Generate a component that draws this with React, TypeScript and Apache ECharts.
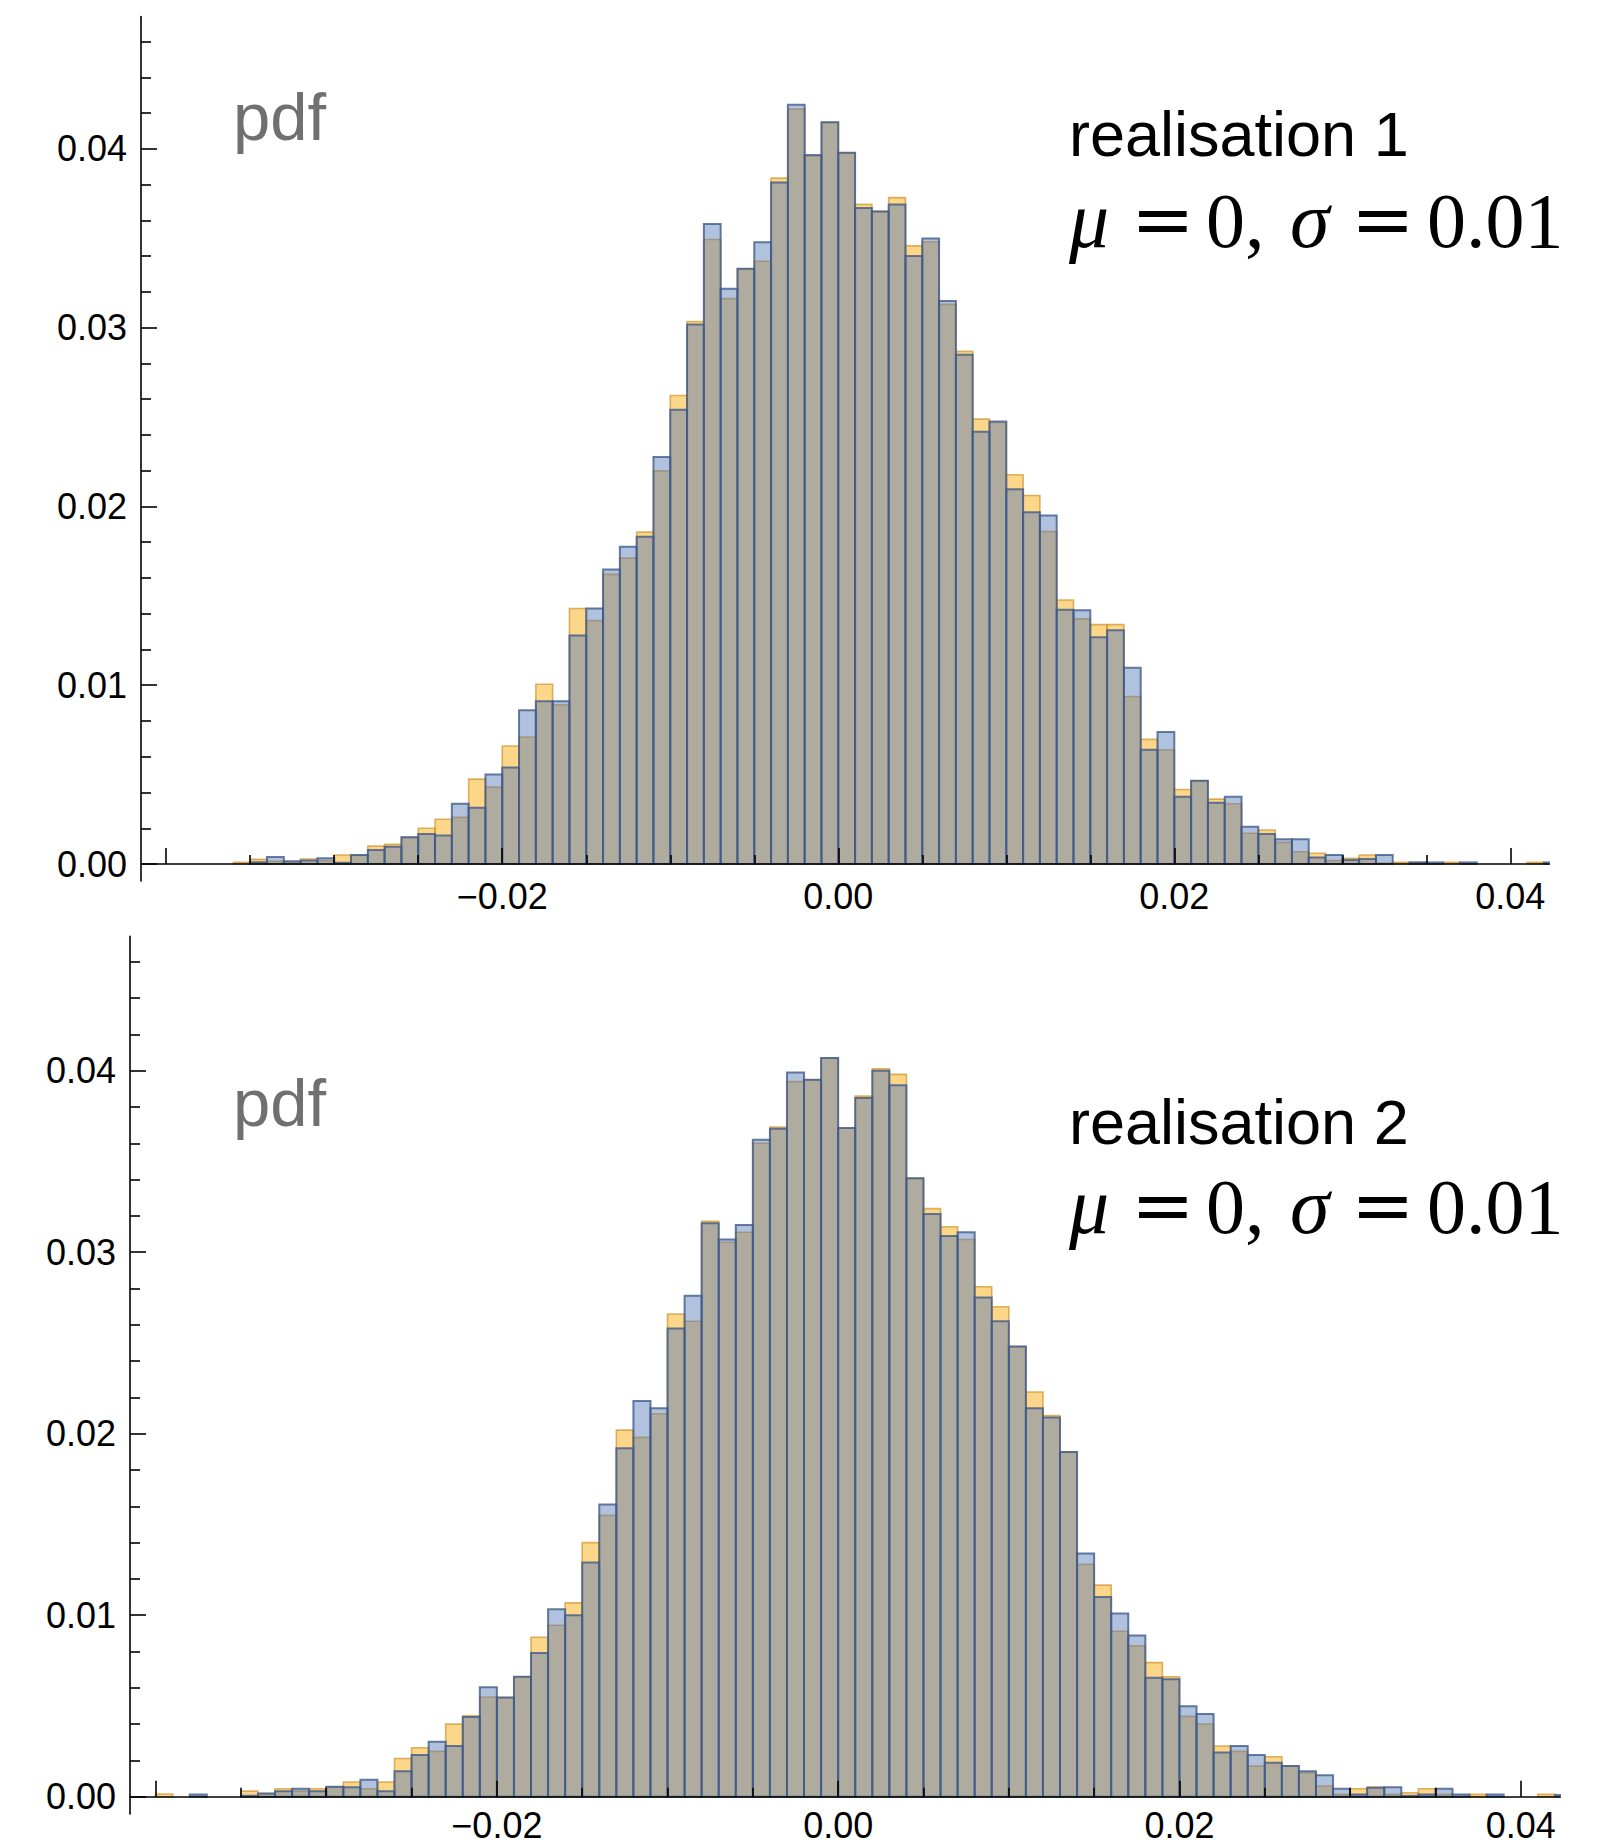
import React, { useEffect, useRef } from 'react';
import * as echarts from 'echarts';

// Histogram bins: width 0.001, first bin starts at -0.040, last at 0.042 (83 bins)
const BIN_WIDTH = 0.001;
const FIRST_BIN_START = -0.04;
const HEIGHT_UNIT = 0.001; // values below are given in units of 0.001

// realisation 1
const R1_ORANGE = [
  0, 0, 0, 0, 0.10, 0.26, 0.15, 0.10, 0.28, 0.19,
  0.50, 0.50, 1.00, 1.10, 1.49, 2.00, 2.50, 2.61, 4.75, 4.30,
  6.60, 7.10, 10.05, 8.90, 14.29, 13.61, 16.20, 17.11, 18.56, 21.99,
  26.20, 30.34, 34.93, 31.62, 33.29, 33.71, 38.36, 42.22, 39.58, 41.48,
  39.78, 36.89, 36.50, 37.27, 34.57, 34.80, 31.30, 28.67, 24.88, 24.69,
  21.77, 20.61, 18.59, 14.77, 13.71, 13.39, 13.39, 9.37, 6.97, 6.39,
  4.17, 4.65, 3.63, 3.37, 1.72, 1.90, 1.21, 0.69, 0.60, 0.19,
  0.32, 0.50, 0.05, 0.09, 0.09, 0, 0.09, 0, 0, 0,
  0, 0.09, 0,
];
const R1_BLUE = [
  0, 0, 0, 0, 0, 0.10, 0.39, 0.15, 0.19, 0.32,
  0.07, 0.50, 0.78, 0.97, 1.49, 1.68, 1.59, 3.37, 3.15, 5.00,
  5.40, 8.60, 9.10, 9.10, 12.78, 14.29, 16.47, 17.75, 18.30, 22.76,
  25.40, 30.18, 35.79, 32.17, 33.29, 34.77, 38.11, 42.47, 39.65, 41.48,
  39.78, 36.69, 36.50, 36.89, 34.00, 34.99, 31.49, 28.48, 24.17, 24.75,
  20.96, 19.68, 19.49, 14.22, 14.19, 12.68, 13.07, 10.98, 6.39, 7.38,
  3.76, 4.65, 3.43, 3.76, 2.09, 1.68, 1.38, 1.38, 0.37, 0.50,
  0.22, 0.28, 0.50, 0, 0.09, 0.09, 0, 0.09, 0, 0,
  0, 0, 0.09,
];

// realisation 2
const R2_ORANGE = [
  0.15, 0, 0, 0, 0, 0.31, 0.18, 0.44, 0.31, 0.44,
  0.53, 0.81, 0.44, 0.81, 2.11, 2.70, 2.50, 4.00, 4.46, 5.50,
  5.47, 6.61, 8.79, 9.45, 10.68, 14.00, 15.50, 20.20, 19.80, 21.10,
  26.60, 26.20, 31.70, 30.55, 31.10, 36.00, 36.90, 39.40, 39.50, 40.70,
  36.84, 38.60, 40.10, 39.80, 34.07, 32.40, 31.40, 30.70, 28.10, 27.00,
  24.80, 22.30, 21.00, 19.00, 12.80, 11.66, 9.12, 8.31, 7.39, 6.61,
  4.43, 4.00, 2.80, 2.50, 1.69, 2.20, 1.69, 1.32, 0.59, 0.13,
  0.44, 0.53, 0.13, 0.22, 0.44, 0.13, 0, 0.13, 0, 0,
  0, 0.13, 0,
];
const R2_BLUE = [
  0, 0, 0.12, 0, 0, 0.05, 0.18, 0.31, 0.44, 0.31,
  0.55, 0.53, 0.94, 0.31, 1.41, 2.30, 3.03, 2.80, 4.40, 6.03,
  5.47, 6.61, 7.92, 10.33, 10.00, 12.90, 16.10, 19.20, 21.80, 21.40,
  25.80, 27.60, 31.60, 30.70, 31.50, 36.20, 36.80, 39.90, 39.50, 40.70,
  36.84, 38.50, 40.00, 39.20, 34.07, 32.10, 30.90, 31.10, 27.50, 26.20,
  24.80, 21.40, 20.90, 19.00, 13.40, 11.00, 10.10, 8.89, 6.55, 6.48,
  4.98, 4.56, 2.44, 2.80, 2.30, 1.87, 1.69, 1.41, 1.19, 0.44,
  0.13, 0.50, 0.53, 0.05, 0.13, 0.44, 0.13, 0, 0.13, 0,
  0, 0, 0.10,
];

const X_MIN = -0.0415;
const X_MAX = 0.0423;
const Y_MIN = -0.00095;
const Y_MAX = 0.0474;

const X_MAJOR_TICKS = [-0.04, -0.02, 0, 0.02, 0.04];
const X_TICK_LABELS = [-0.02, 0, 0.02, 0.04];
const X_MINOR_TICKS = [-0.035, -0.03, -0.025, -0.015, -0.01, -0.005, 0.005, 0.01, 0.015, 0.025, 0.03, 0.035];
const Y_MAJOR_TICKS = [0, 0.01, 0.02, 0.03, 0.04];
const Y_MINOR_TICKS = [
  0.002, 0.004, 0.006, 0.008, 0.012, 0.014, 0.016, 0.018, 0.022, 0.024, 0.026, 0.028,
  0.032, 0.034, 0.036, 0.038, 0.042, 0.044, 0.046,
];

const PANEL_TITLES = ['realisation 1', 'realisation 2'];
const PDF_LABEL = 'pdf';

const PANELS = [
  { orange: R1_ORANGE, blue: R1_BLUE, grid: { left: 141, right: 55, top: 16.5, bottom: 966 }, xLabelMargin: 1, textY: { pdf: 116, title: 134, mu: 220 } },
  { orange: R2_ORANGE, blue: R2_BLUE, grid: { left: 130, right: 44, top: 936.4, bottom: 33 }, xLabelMargin: -3, textY: { pdf: 1102, title: 1122, mu: 1206 } },
];

const ORANGE_FILL = 'rgba(250,180,40,0.55)';
const ORANGE_STROKE = 'rgba(205,140,30,0.65)';
const BLUE_FILL = 'rgba(90,125,185,0.47)';
const BLUE_STROKE = 'rgba(60,88,138,0.78)';

const SANS = '"Liberation Sans", Arial, Helvetica, sans-serif';
const SERIF = '"Liberation Serif", "Times New Roman", serif';
const EQ_SERIF = '"DejaVu Serif", "Liberation Serif", serif';

function toBins(values: number[]) {
  return values.map((v, k) => {
    const x0 = FIRST_BIN_START + k * BIN_WIDTH;
    return [x0, x0 + BIN_WIDTH, v * HEIGHT_UNIT];
  });
}

function fmt(v: number) {
  if (Math.abs(v) < 1e-12) return '0.00';
  return v.toFixed(2).replace('-', '\u2212');
}

function makeRender(fill: string, stroke: string, lw: number) {
  return (params: any, api: any) => {
    const h = api.value(2);
    if (!h) return null;
    const p0 = api.coord([api.value(0), h]);
    const p1 = api.coord([api.value(1), 0]);
    const cs = params.coordSys;
    const left = Math.max(p0[0], cs.x);
    const right = Math.min(p1[0], cs.x + cs.width);
    if (right <= left) return null;
    return {
      type: 'rect',
      shape: { x: left, y: p0[1], width: right - left, height: p1[1] - p0[1] },
      style: { fill, stroke, lineWidth: lw },
    };
  };
}

function buildOption() {
  const grid: any[] = [];
  const xAxis: any[] = [];
  const yAxis: any[] = [];
  const series: any[] = [];
  const graphic: any[] = [];

  PANELS.forEach((p, i) => {
    const main = 2 * i;
    const over = 2 * i + 1;
    grid.push({ ...p.grid, containLabel: false });
    grid.push({ ...p.grid, containLabel: false });

    xAxis.push({
      gridIndex: main, type: 'value', min: X_MIN, max: X_MAX, z: 10,
      axisLine: { show: true, onZero: true, lineStyle: { color: '#000', width: 1.6 } },
      axisTick: { show: true, inside: true, length: 16, customValues: X_MAJOR_TICKS, lineStyle: { color: '#000', width: 1.6 } },
      axisLabel: { show: true, customValues: X_TICK_LABELS, formatter: fmt, color: '#000', fontSize: 36, lineHeight: 28, fontFamily: SANS, margin: p.xLabelMargin },
      splitLine: { show: false },
    });
    xAxis.push({
      gridIndex: over, type: 'value', min: X_MIN, max: X_MAX, z: 10,
      axisLine: { show: false, onZero: true },
      axisTick: { show: true, inside: true, length: 9, customValues: X_MINOR_TICKS, lineStyle: { color: '#000', width: 1.6 } },
      axisLabel: { show: false },
      splitLine: { show: false },
    });
    yAxis.push({
      gridIndex: main, type: 'value', min: Y_MIN, max: Y_MAX, z: 10,
      axisLine: { show: true, onZero: false, lineStyle: { color: '#000', width: 1.6 } },
      axisTick: { show: true, inside: true, length: 16, customValues: Y_MAJOR_TICKS, lineStyle: { color: '#000', width: 1.6 } },
      axisLabel: { show: true, customValues: Y_MAJOR_TICKS, formatter: fmt, color: '#000', fontSize: 36, fontFamily: SANS, margin: 14 },
      splitLine: { show: false },
    });
    yAxis.push({
      gridIndex: over, type: 'value', min: Y_MIN, max: Y_MAX, z: 10,
      axisLine: { show: false, onZero: false },
      axisTick: { show: true, inside: true, length: 10, customValues: Y_MINOR_TICKS, lineStyle: { color: '#000', width: 1.6 } },
      axisLabel: { show: false },
      splitLine: { show: false },
    });

    series.push({
      type: 'custom', name: `orange ${i + 1}`, xAxisIndex: main, yAxisIndex: main, z: 2,
      encode: { x: [0, 1], y: 2 }, data: toBins(p.orange),
      renderItem: makeRender(ORANGE_FILL, ORANGE_STROKE, 1.6), silent: true,
    });
    series.push({
      type: 'custom', name: `blue ${i + 1}`, xAxisIndex: main, yAxisIndex: main, z: 3,
      encode: { x: [0, 1], y: 2 }, data: toBins(p.blue),
      renderItem: makeRender(BLUE_FILL, BLUE_STROKE, 2), silent: true,
    });

    const ty = p.textY;
    graphic.push(
      { type: 'text', x: 233, y: ty.pdf, style: { text: PDF_LABEL, font: `67px ${SANS}`, fill: '#707070', verticalAlign: 'middle' } },
      { type: 'text', x: 1069, y: ty.title, style: { text: PANEL_TITLES[i], font: `63px ${SANS}`, fill: '#000', verticalAlign: 'middle' } },
      { type: 'text', x: 1069, y: ty.mu, style: { text: '\u03bc', font: `italic 80px ${SERIF}`, fill: '#000', verticalAlign: 'middle' } },
      { type: 'text', x: 1131, y: ty.mu - 2, style: { text: '=', font: `76px ${EQ_SERIF}`, fill: '#000', verticalAlign: 'middle' } },
      { type: 'text', x: 1206, y: ty.mu, style: { text: '0,', font: `78px ${SERIF}`, fill: '#000', verticalAlign: 'middle' } },
      { type: 'text', x: 1290, y: ty.mu, style: { text: '\u03c3', font: `italic 80px ${SERIF}`, fill: '#000', verticalAlign: 'middle' } },
      { type: 'text', x: 1351, y: ty.mu - 2, style: { text: '=', font: `76px ${EQ_SERIF}`, fill: '#000', verticalAlign: 'middle' } },
      { type: 'text', x: 1427, y: ty.mu, style: { text: '0.01', font: `78px ${SERIF}`, fill: '#000', verticalAlign: 'middle' } },
    );
  });

  return {
    animation: false,
    backgroundColor: '#fff',
    grid, xAxis, yAxis, series, graphic,
  };
}

export default function App() {
  const ref = useRef<HTMLDivElement>(null);
  useEffect(() => {
    if (!ref.current) return;
    const chart = echarts.init(ref.current, undefined, { renderer: 'svg' });
    chart.setOption(buildOption() as any);
    return () => chart.dispose();
  }, []);
  return (
    <div
      ref={ref}
      style={{ position: 'absolute', left: 0, top: 0, width: 1604, height: 1847, background: '#fff' }}
    />
  );
}
